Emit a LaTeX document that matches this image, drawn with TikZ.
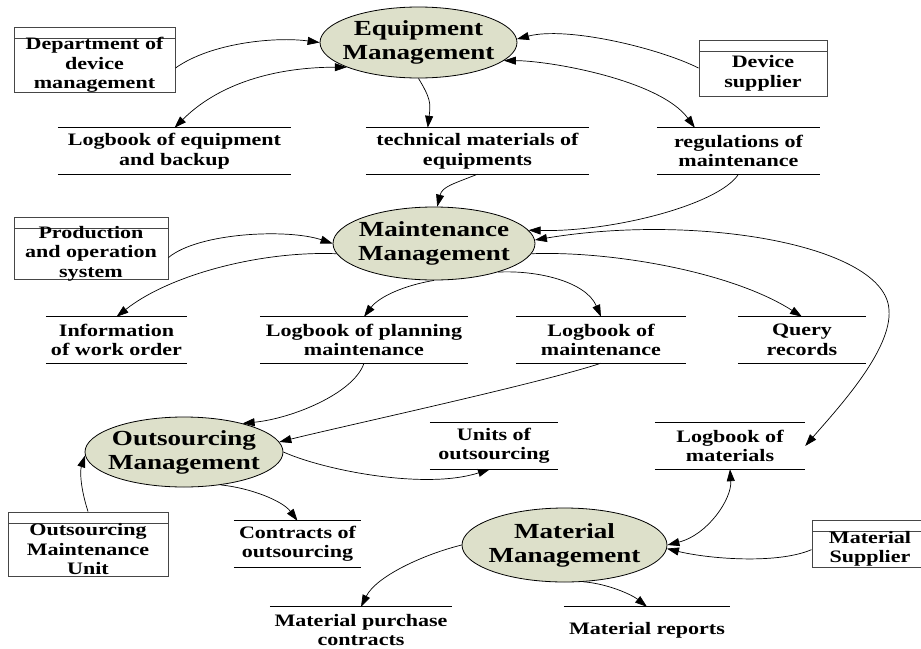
\documentclass[tikz,border=0pt]{standalone}
\usepackage{fontspec}
\setmainfont{Liberation Serif}[FakeStretch=1.26]
\usetikzlibrary{positioning,arrows.meta,shapes.geometric}
\definecolor{dfdFill}{RGB}{221,224,202}
\definecolor{dfdGray}{RGB}{70,70,70}

\tikzset{
  proc/.style={ellipse, draw, line width=0.8pt, fill=dfdFill, inner xsep=-15pt, inner ysep=0pt,
    align=center, font=\fontsize{21.5}{24}\selectfont\bfseries},
  entity/.style={draw=dfdGray, line width=1pt, inner sep=0pt,
    path picture={\draw[dfdGray, line width=1pt] ([yshift=-11pt]path picture bounding box.north west) -- ([yshift=-11pt]path picture bounding box.north east);}},
  enttext/.style={align=center, yshift=-5.5pt, font=\fontsize{17.5}{19.5}\selectfont\bfseries},
  storeline/.style={-, line width=1pt},
  store/.style={inner sep=0pt, minimum height=46pt, align=center,
    font=\fontsize{17.5}{19.5}\selectfont\bfseries,
    append after command={(\tikzlastnode.north west) edge[storeline] (\tikzlastnode.north east)
      (\tikzlastnode.south west) edge[storeline] (\tikzlastnode.south east)}},
  flow/.style={line width=0.7pt, -{Triangle[length=12pt,width=8pt]}},
  flowboth/.style={line width=0.7pt, {Triangle[length=12pt,width=8pt]}-{Triangle[length=12pt,width=8pt]}},
}

\begin{document}
\begin{tikzpicture}[x=1pt, y=-1pt]
  \useasboundingbox (0,0) rectangle (921,648);

  % Processes
  \node[proc, minimum width=197pt, minimum height=71pt] (eqm) at (418.5,42.5) {Equipment\\Management};
  \node[proc, minimum width=202pt, minimum height=73pt] (mtm) at (434,243.5) {Maintenance\\Management};
  \node[proc, minimum width=198pt, minimum height=70pt] (osm) at (184,452) {Outsourcing\\Management};
  \node[proc, minimum width=205pt, minimum height=74pt] (mam) at (564.5,545) {Material\\Management};

  % External entities
  \node[entity, minimum width=161pt, minimum height=65pt,
    label={[enttext, name=deptl]center:Department of\\device\\management}] (dept) at (94.5,59.5) {};
  \node[entity, minimum width=128pt, minimum height=56pt,
    label={[enttext, name=devsupl]center:Device\\supplier}] (devsup) at (763,68) {};
  \node[entity, minimum width=154pt, minimum height=62pt,
    label={[enttext, name=prodl]center:Production\\and operation\\system}] (prod) at (91,248) {};
  \node[entity, minimum width=160pt, minimum height=64pt,
    label={[enttext, name=osunitl]center:Outsourcing\\Maintenance\\Unit}] (osunit) at (88,544) {};
  \node[entity, minimum width=116pt, minimum height=47pt,
    label={[enttext, name=matsupl]center:Material\\Supplier}] (matsup) at (870,543.5) {};

  % Data stores
  \node[store, minimum width=233pt] (logeq) at (174.5,151) {Logbook of equipment\\and backup};
  \node[store, minimum width=223pt] (techm) at (477.5,151) {technical materials of\\equipments};
  \node[store, minimum width=163pt] (regm) at (738.5,151) {regulations of\\maintenance};
  \node[store, minimum width=141pt] (infow) at (116.5,340) {Information\\of work order};
  \node[store, minimum width=208pt] (logpl) at (364,340) {Logbook of planning\\maintenance};
  \node[store, minimum width=170pt] (logmt) at (601,340) {Logbook of\\maintenance};
  \node[store, minimum width=128pt] (query) at (802,340) {Query\\records};
  \node[store, minimum width=128pt] (unitos) at (494,446) {Units of\\outsourcing};
  \node[store, minimum width=150pt] (logmat) at (730,446) {Logbook of\\materials};
  \node[store, minimum width=127pt] (contos) at (297.5,544) {Contracts of\\outsourcing};
  \node[store, minimum width=182pt] (mpc) at (361,630) {Material purchase\\contracts};
  \node[store, minimum width=166pt] (mrep) at (647,630) {Material reports};

  \coordinate (bend) at (889,310);

  % Equipment management flows
  \draw[flow] (dept.-6) .. controls +(35,-25) and +(-45,-6) .. (eqm.west);
  \draw[flowboth] (eqm.199) .. controls +(-70,0) and +(45,-45) .. (logeq.north);
  \draw[flow] (eqm.south) .. controls +(12,20) and +(3,-25) .. (techm.155);
  \draw[flow] (devsup.west) .. controls +(-40,-20) and +(50,-13) .. (eqm.2);
  \draw[flowboth] (eqm.-12) .. controls +(45,0) and +(-35,-48) .. (regm.152);

  % Maintenance management flows
  \draw[flow] (techm.south) .. controls +(-25,10) and +(5,-20) .. (mtm.85);
  \draw[flow] (regm.south) .. controls +(-20,31) and +(82,2) .. (mtm.8);
  \draw[flow] (prod.-7) .. controls +(30,-25) and +(-45,-15) .. (mtm.west);
  \draw[flow] (mtm.186) .. controls +(-76,-3) and +(53,-42) .. (infow.north);
  \draw[flow] (mtm.south) .. controls +(-30,5) and +(15,-20) .. (logpl.north);
  \draw[flow] (mtm.-24) .. controls +(40,-2) and +(-15,-35) .. (logmt.north);
  \draw[flow] (mtm.-6) .. controls +(80,-3) and +(-70,-45) .. (query.north);
  \draw[flowboth] (mtm.2) .. controls +(162,-27) and +(-3,-65) .. (bend)
    .. controls +(3,40) and +(33,-38) .. (logmat.east);

  % Outsourcing management flows
  \draw[flow] (logpl.south) .. controls +(-10,30) and +(50,-5) .. (osm.26);
  \draw[flow] (logmt.south) .. controls +(-60,20) and +(60,-15) .. (osm.6);
  \draw[flow] (osm.east) .. controls +(40,18) and +(-65,21) .. (unitos.-100);
  \draw[flow] (osm.-42) .. controls +(30,3) and +(-15,-20) .. (contos.north);
  \draw[flow] (osunit.north) .. controls +(-8,-25) and +(-5,15) .. (osm.182);

  % Material management flows
  \draw[flow] (mam.west) .. controls +(-40,10) and +(15,-30) .. (mpc.north);
  \draw[flow] (mam.-63) .. controls +(25,2) and +(-15,-12) .. (mrep.north);
  \draw[flowboth] (mam.east) .. controls +(40,-10) and +(2,30) .. (logmat.south);
  \draw[flow] (matsup.186) .. controls +(-35,15) and +(40,10) .. (mam.-2);
\end{tikzpicture}
\end{document}
